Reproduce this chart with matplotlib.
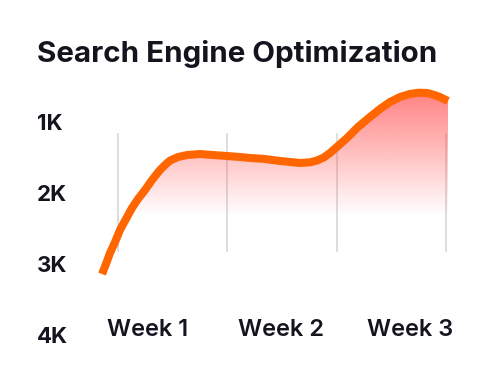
import matplotlib
matplotlib.use("Agg")
import matplotlib.pyplot as plt
import matplotlib.transforms as mtransforms
import numpy as np

# curve (x: gridline units, y: rank in thousands)
pos_x = [0.854, 0.890, 0.927, 0.973, 1.018, 1.073, 1.128, 1.183, 1.247, 1.311,
         1.384, 1.430, 1.476, 1.549, 1.631, 1.750, 1.869, 1.997, 2.116, 2.207,
         2.326, 2.482, 2.665, 2.756, 2.820, 2.884, 2.939, 3.012, 3.095, 3.195,
         3.305, 3.396, 3.488, 3.579, 3.671, 3.744, 3.826, 3.890, 3.945, 4.018]
rank_k = [3.113, 2.972, 2.817, 2.662, 2.493, 2.338, 2.183, 2.056, 1.930, 1.789,
          1.648, 1.577, 1.515, 1.465, 1.437, 1.423, 1.437, 1.451, 1.465, 1.479,
          1.490, 1.521, 1.549, 1.540, 1.515, 1.470, 1.408, 1.310, 1.197, 1.042,
          0.901, 0.789, 0.690, 0.620, 0.577, 0.560, 0.563, 0.590, 0.620, 0.676]

y_ticks = [1, 2, 3, 4]
y_labels = ["1K", "2K", "3K", "4K"]
week_pos = [1.274, 2.491, 3.671]
week_labels = ["Week 1", "Week 2", "Week 3"]
grid_x = [1, 2, 3, 4]

TEXT = "#14141f"
LINE = "#ff6600"
FONT = ["Inter", "DejaVu Sans"]

fig = plt.figure(figsize=(4.8, 3.76), dpi=100)
fig.patch.set_facecolor("white")
ax = fig.add_axes([0, 0, 1, 1])
ax.set_xlim(-0.0793, 4.311)
ax.set_ylim(4.549, -0.746)
ax.axis("off")

# light vertical guides
ax.vlines(grid_x, 1.127, 2.80, color="#d4d4d4", linewidth=1.1, zorder=1)

# gradient fill under the curve
fill = ax.fill_between(pos_x, rank_k, 2.35, color="none", linewidth=0)
top, bottom = 0.5, 2.3
h = 200
alpha = np.clip(np.linspace(0.66, 0.0, h), 0, 1)[:, None]
img = np.zeros((h, 1, 4))
img[..., 0] = 1.0
img[..., 1] = 0x3b / 255
img[..., 2] = 0x3b / 255
img[..., 3] = alpha
im = ax.imshow(img, extent=[pos_x[0], pos_x[-1], bottom, top],
               aspect="auto", origin="upper", zorder=2, interpolation="bilinear")
im.set_clip_path(fill.get_paths()[0], ax.transData)

ax.plot(pos_x, rank_k, color=LINE, linewidth=5.8, solid_capstyle="butt",
        solid_joinstyle="round", zorder=3)

fig.text(37 / 480, 1 - 62 / 376, "Search Engine Optimization", fontsize=21.3,
         fontweight="bold", color=TEXT, family=FONT, ha="left", va="baseline")

blend_y = mtransforms.blended_transform_factory(fig.transFigure, ax.transData)
for v, lab in zip(y_ticks, y_labels):
    ax.text(37 / 480, v, lab, transform=blend_y, fontsize=16, fontweight="bold",
            color=TEXT, family=FONT, ha="left", va="center")

blend_x = mtransforms.blended_transform_factory(ax.transData, fig.transFigure)
for xv, lab in zip(week_pos, week_labels):
    ax.text(xv, 1 - 330 / 376, lab, transform=blend_x, fontsize=17,
            fontweight="semibold", color=TEXT, family=FONT,
            ha="center", va="center")

fig.savefig("out.png", dpi=100, facecolor="white")
